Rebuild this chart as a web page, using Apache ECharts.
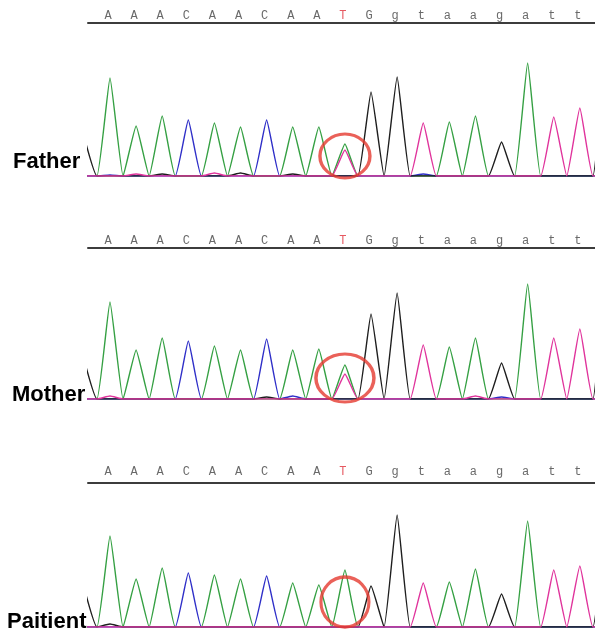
<!DOCTYPE html>
<html><head><meta charset="utf-8">
<script src="https://cdn.jsdelivr.net/npm/echarts@6/dist/echarts.min.js"></script>
<style>html,body{margin:0;padding:0;background:#fff}#c{width:595px;height:637px}</style>
</head><body><div id="c"></div>
<script>
// Called bases (same read for all three samples)
const bases = ['A','A','A','C','A','A','C','A','A','T','G','g','t','a','a','g','a','t','t'];
const mutationIndex = 9;
const sampleNames = ['Father', 'Mother', 'Paitient'];

// Peak heights per base slot; slot 0 = partial peak before first base, slots 1..19 = bases, slot 20 = partial peak after last base
const fatherA  = [0, 98, 50, 60, 0, 53, 49, 0, 49, 49, 32, 0, 0, 0, 54, 60, 0, 113, 0, 0, 0];
const fatherC  = [0, 1, 0, 0, 56, 0, 0, 56, 0, 0, 0, 0, 0, 2, 0, 0, 0, 0, 0, 0, 0];
const fatherG  = [40, 0, 0, 2, 0, 0, 3, 0, 2, 0, 0, 84, 99, 0, 0, 0, 34, 0, 0, 0, 140];
const fatherT  = [0, 0, 2, 0, 0, 3, 0, 0, 0, 0, 26, 0, 0, 53, 0, 0, 0, 0, 59, 68, 0];

const motherA  = [0, 97, 49, 61, 0, 53, 49, 0, 49, 50, 34, 0, 0, 0, 52, 61, 0, 115, 0, 0, 0];
const motherC  = [0, 0, 0, 0, 58, 0, 0, 60, 3, 0, 0, 0, 0, 0, 0, 0, 2, 0, 0, 0, 0];
const motherG  = [40, 0, 0, 0, 0, 0, 0, 2, 0, 0, 0, 85, 106, 0, 0, 0, 36, 0, 0, 0, 150];
const motherT  = [0, 3, 0, 0, 0, 0, 0, 0, 0, 0, 25, 0, 0, 54, 0, 3, 0, 0, 61, 70, 0];

const patientA = [0, 91, 48, 59, 0, 52, 48, 0, 44, 42, 57, 0, 0, 0, 45, 58, 0, 106, 0, 0, 0];
const patientC = [0, 0, 0, 0, 54, 0, 0, 51, 0, 0, 0, 0, 0, 0, 0, 0, 0, 0, 0, 0, 0];
const patientG = [40, 3, 0, 0, 0, 0, 0, 0, 0, 0, 0, 41, 112, 0, 0, 0, 33, 0, 0, 0, 110];
const patientT = [0, 0, 0, 0, 0, 0, 0, 0, 0, 0, 0, 0, 0, 44, 0, 0, 0, 0, 57, 61, 0];

const samples = [
  { A: fatherA, C: fatherC, G: fatherG, T: fatherT },
  { A: motherA, C: motherC, G: motherG, T: motherT },
  { A: patientA, C: patientC, G: patientG, T: patientT }
];

// ---- layout / style (not data) ----
const layout = [
  { baseline: 176, lineY: 23,  letterGap: 7,  titleTop: 151, titleLeft: 13, circleY: 20, circleSize: [50, 44] },
  { baseline: 399, lineY: 248, letterGap: 7,  titleTop: 384, titleLeft: 12, circleY: 21, circleSize: [58, 48] },
  { baseline: 627, lineY: 483, letterGap: 11, titleTop: 611, titleLeft: 7,  circleY: 25, circleSize: [48, 50] }
];
const channelColors = { A: '#35a043', C: '#2f2fc8', G: '#1e1e1e', T: '#e0349c' };
const channelOrder = ['A', 'C', 'G', 'T'];
const X_MIN = -0.843, X_MAX = 18.58, Y_MAX = 120;

function traceData(arr) {
  const out = [];
  for (let j = 0; j < arr.length; j++) {
    const x = j - 1;
    out.push([x, arr[j]]);
    if (j < arr.length - 1) out.push([x + 0.5, 0]);
  }
  return out;
}

const grid = [], xAxis = [], yAxis = [], series = [], title = [];
layout.forEach((L, p) => {
  // letter row grid
  const gi = grid.length;
  grid.push({ left: 88, right: 0, top: L.lineY - 2 * L.letterGap, height: 2 * L.letterGap });
  xAxis.push({ type: 'value', gridIndex: gi, min: X_MIN, max: X_MAX, show: true,
    axisLine: { show: true, onZero: true, lineStyle: { color: '#3c3c3c', width: 2 } },
    axisTick: { show: false }, axisLabel: { show: false }, splitLine: { show: false } });
  yAxis.push({ type: 'value', gridIndex: gi, min: 0, max: 1, show: false });
  series.push({
    type: 'scatter', xAxisIndex: gi, yAxisIndex: gi, symbolSize: 1,
    itemStyle: { color: 'rgba(0,0,0,0)' }, silent: true,
    data: bases.map((b, i) => ({
      value: [i, 0.5],
      label: { show: true, position: 'inside', formatter: b, offset: [-2, 0],
        color: i === mutationIndex ? '#e0303a' : '#444444',
        fontFamily: 'Liberation Mono', fontSize: 12 }
    }))
  });

  // trace grid
  const ti = grid.length;
  grid.push({ left: 88, right: 0, top: L.baseline - Y_MAX, height: Y_MAX });
  xAxis.push({ type: 'value', gridIndex: ti, min: X_MIN, max: X_MAX, show: false });
  yAxis.push({ type: 'value', gridIndex: ti, min: 0, max: Y_MAX, show: false });
  channelOrder.forEach(ch => {
    series.push({
      type: 'line', xAxisIndex: ti, yAxisIndex: ti, showSymbol: false, symbol: 'none',
      smooth: 0.12, clip: true, silent: true,
      lineStyle: { color: channelColors[ch], width: 1.4 },
      data: traceData(samples[p][ch])
    });
  });
  // red circle around the mutation position
  series.push({
    type: 'scatter', xAxisIndex: ti, yAxisIndex: ti, symbol: 'circle',
    symbolSize: L.circleSize, z: 10, silent: true,
    itemStyle: { color: 'rgba(0,0,0,0)', borderColor: '#e53a30', borderWidth: 3.2 },
    data: [[mutationIndex, L.circleY]]
  });

  title.push({ text: sampleNames[p], left: L.titleLeft, top: L.titleTop, padding: 0,
    textStyle: { fontFamily: 'Liberation Sans', fontWeight: 'bold', fontSize: 22, color: '#000' } });
});

const chart = echarts.init(document.getElementById('c'));
chart.setOption({ animation: false, backgroundColor: '#fff', title, grid, xAxis, yAxis, series });
</script>
</body></html>
